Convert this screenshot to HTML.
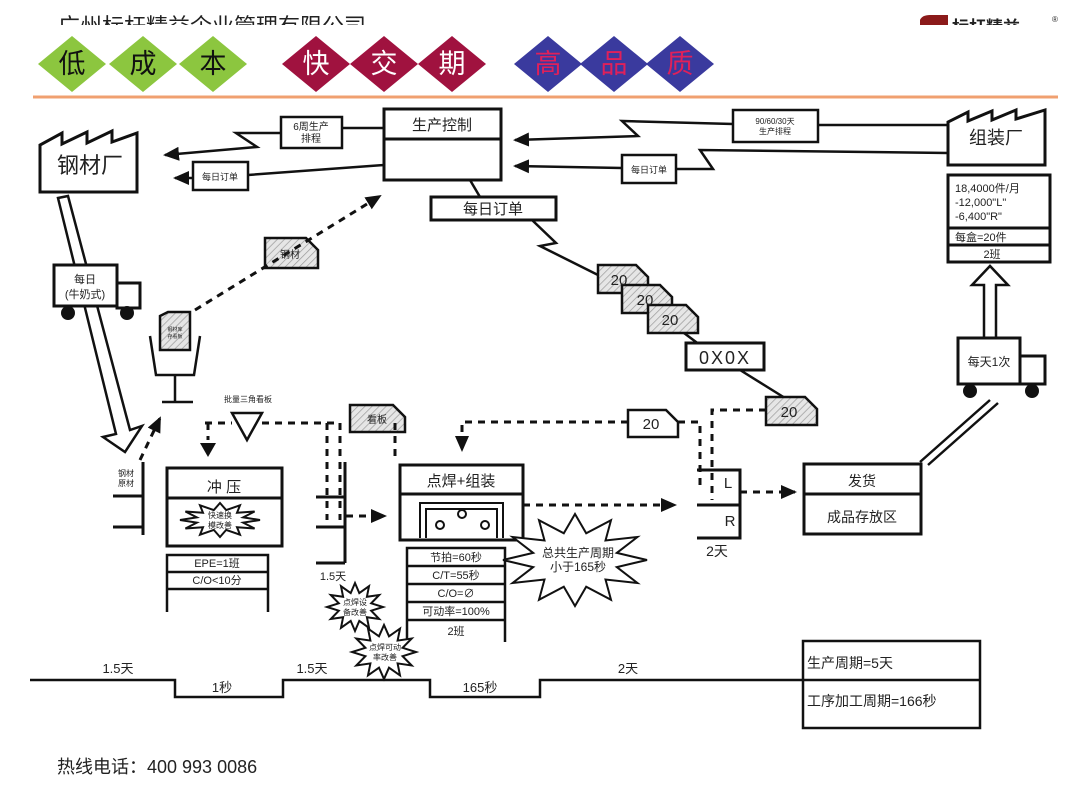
<!DOCTYPE html>
<html><head><meta charset="utf-8"><style>
html,body{margin:0;padding:0;background:#fff;}
svg{display:block;font-family:"Liberation Sans","Noto Sans CJK SC",sans-serif;}
</style></head><body>
<svg width="1080" height="810" viewBox="0 0 1080 810" xmlns="http://www.w3.org/2000/svg">
<defs>
<pattern id="h" width="5" height="5" patternUnits="userSpaceOnUse" patternTransform="rotate(45)">
<rect width="5" height="5" fill="#e6e6e6"/><line x1="0" y1="0" x2="0" y2="5" stroke="#9a9a9a" stroke-width="1.4"/></pattern>
<marker id="b" markerWidth="16" markerHeight="14" refX="14" refY="7" orient="auto" markerUnits="userSpaceOnUse"><path d="M0,0 L16,7 L0,14 z" fill="#111"/></marker>
</defs>
<!-- header -->
<text x="58" y="34" font-size="22" fill="#222">广州标杆精益企业管理有限公司</text>
<path d="M920,26 V20 Q922,15 930,15 H948 V26 Z" fill="#8b1a1a"/>
<text x="952" y="33" font-size="17" fill="#222" font-weight="bold">标杆精益</text>
<text x="1052" y="22" font-size="8" fill="#222">®</text>
<rect x="0" y="25" width="1080" height="11" fill="#fff"/>
<g font-size="27" text-anchor="middle">
<polygon points="72,36 106,64 72,92 38,64" fill="#8cc63f"/><polygon points="143,36 177,64 143,92 109,64" fill="#8cc63f"/><polygon points="213,36 247,64 213,92 179,64" fill="#8cc63f"/>
<text x="72" y="73" fill="#111">低</text><text x="143" y="73" fill="#111">成</text><text x="213" y="73" fill="#111">本</text>
<polygon points="316,36 350,64 316,92 282,64" fill="#a0123f"/><polygon points="384,36 418,64 384,92 350,64" fill="#a0123f"/><polygon points="452,36 486,64 452,92 418,64" fill="#a0123f"/>
<text x="316" y="73" fill="#fff">快</text><text x="384" y="73" fill="#fff">交</text><text x="452" y="73" fill="#fff">期</text>
<polygon points="548,36 582,64 548,92 514,64" fill="#3a3a9e"/><polygon points="614,36 648,64 614,92 580,64" fill="#3a3a9e"/><polygon points="680,36 714,64 680,92 646,64" fill="#3a3a9e"/>
<text x="548" y="73" fill="#e0205a">高</text><text x="614" y="73" fill="#e0205a">品</text><text x="680" y="73" fill="#e0205a">质</text>
</g>
<line x1="33" y1="97" x2="1058" y2="97" stroke="#f0a070" stroke-width="3"/>

<g stroke="#111" stroke-width="3" fill="none">
<path d="M40,192 V145 L62,133 V144 L87,132 V143 L112,131 V142 L137,133 V192 Z" fill="#fff"/>
<path d="M948,165 V122 L968,112 V121 L992,111 V120 L1016,110 V119 L1045,110 V165 Z" fill="#fff"/>
<rect x="384" y="109" width="117" height="71" fill="#fff"/><line x1="384" y1="139" x2="501" y2="139"/>
<rect x="431" y="197" width="125" height="23" fill="#fff"/>
<line x1="470" y1="180" x2="480" y2="197" stroke-width="2.5"/>
<path d="M384,128 H342 M281,133 H236 L257,147 L165,155" marker-end="url(#b)" stroke-width="2.5"/>
<rect x="281" y="117" width="61" height="31" fill="#fff" stroke-width="2.5"/>
<path d="M384,165 L248,175 M193,178 H175" marker-end="url(#b)" stroke-width="2.5"/>
<rect x="193" y="162" width="55" height="28" fill="#fff" stroke-width="2.5"/>
<path d="M948,125 H818 M733,124 L622,121 L638,136 L515,140" marker-end="url(#b)" stroke-width="2.5"/>
<rect x="733" y="110" width="85" height="32" fill="#fff" stroke-width="2.5"/>
<path d="M948,153 L700,150 L713,169 H676 M622,168 L515,166" marker-end="url(#b)" stroke-width="2.5"/>
<rect x="622" y="155" width="54" height="28" fill="#fff" stroke-width="2.5"/>
<path d="M532,220 L556,243 L540,246 L600,276" stroke-width="2.5"/>
<line x1="680" y1="330" x2="700" y2="345" stroke-width="2.5"/>
<line x1="740" y1="370" x2="785" y2="398" stroke-width="2.5"/>
<rect x="948" y="175" width="102" height="87" fill="#fff"/>
<line x1="948" y1="228" x2="1050" y2="228"/><line x1="948" y1="245" x2="1050" y2="245"/>
<path d="M984,340 V285 H972 L990,266 L1008,285 H996 V340" fill="#fff" stroke-width="2.5"/>
<rect x="958" y="338" width="62" height="46" fill="#fff"/><rect x="1020" y="356" width="25" height="28" fill="#fff"/>
<line x1="990" y1="400" x2="920" y2="462" stroke-width="2.5"/><line x1="998" y1="403" x2="928" y2="465" stroke-width="2.5"/>
<rect x="804" y="464" width="117" height="70" fill="#fff"/><line x1="804" y1="494" x2="921" y2="494"/>
<path d="M697,470 H740 V538 H697 M697,505 H740"/>
<path d="M58,198 L68,196 L130,430 L142,426 L125,452 L103,437 L116,434 Z" fill="#fff" stroke-width="2.5"/>
<rect x="54" y="265" width="63" height="41" fill="#fff"/><rect x="117" y="283" width="23" height="25" fill="#fff"/>
<path d="M150,336 L156,375 H194 L200,336" stroke-width="2.5"/>
<line x1="175" y1="375" x2="175" y2="402" stroke-width="2.5"/><line x1="162" y1="402" x2="193" y2="402" stroke-width="2.5"/>
<path d="M143,462 V535 M113,496 H143 M113,527 H143"/>
<path d="M345,462 V563 M316,497 H345 M316,527 H345 M316,563 H345"/>
<rect x="167" y="468" width="115" height="78" fill="#fff"/><line x1="167" y1="498" x2="282" y2="498"/>
<path d="M167,612 V555 H268 V612 M167,572 H268 M167,589 H268" stroke-width="2.5"/>
<rect x="400" y="465" width="123" height="75" fill="#fff"/><line x1="400" y1="494" x2="523" y2="494"/>
<path d="M420,538 V503 H503 V538 M426,538 V509 H497 V538" stroke-width="2"/>
<path d="M407,642 V548 H505 V642 M407,566 H505 M407,584 H505 M407,602 H505 M407,620 H505" stroke-width="2.5"/>
<polygon points="232,413 262,413 247,440" fill="#fff" stroke-width="2.5"/>
<path d="M30,680 H175 V697 H283 V680 H430 V697 H540 V680 H803" stroke-width="2.5"/>
<rect x="803" y="641" width="177" height="87" fill="#fff" stroke-width="2.5"/><line x1="803" y1="680" x2="980" y2="680" stroke-width="2.5"/>
</g>
<g fill="#111"><circle cx="68" cy="313" r="7"/><circle cx="127" cy="313" r="7"/><circle cx="970" cy="391" r="7"/><circle cx="1032" cy="391" r="7"/></g>
<g fill="#fff" stroke="#111" stroke-width="2"><circle cx="440" cy="525" r="4"/><circle cx="462" cy="514" r="4"/><circle cx="485" cy="525" r="4"/></g>
<g stroke="#111" stroke-width="2.5" fill="url(#h)">
<path d="M598,265 H636 L648,277 V293 H598 Z"/>
<path d="M622,285 H660 L672,297 V313 H622 Z"/>
<path d="M648,305 H686 L698,317 V333 H648 Z"/>
<path d="M766,397 H805 L817,409 V425 H766 Z"/>
<path d="M265,238 H306 L318,250 V268 H265 Z"/>
<path d="M350,405 H393 L405,417 V432 H350 Z"/>
<path d="M160,316 L168,312 H190 V350 H160 Z"/>
</g>
<path d="M628,410 H666 L678,422 V437 H628 Z" fill="#fff" stroke="#111" stroke-width="2.5"/>
<rect x="686" y="343" width="78" height="27" fill="#fff" stroke="#111" stroke-width="3"/>
<g stroke="#111" stroke-width="3" fill="none" stroke-dasharray="7,6">
<path d="M195,310 L380,196" marker-end="url(#b)"/>
<path d="M140,460 L160,418" marker-end="url(#b)"/>
<path d="M205,423 H232 M262,423 H340 V520 M208,423 V440"/>
<path d="M327,423 V520 M395,423 V462"/>
<path d="M346,516 H385" marker-end="url(#b)"/>
<path d="M628,422 H462 V450" marker-end="url(#b)"/>
<path d="M678,422 H700 V490"/>
<path d="M766,410 H712 V500"/>
<path d="M523,505 H675" marker-end="url(#b)"/>
<path d="M740,492 H795" marker-end="url(#b)"/>
</g>
<path d="M200,443 L216,443 L208,457 Z" fill="#111"/>
<g fill="#fff" stroke="#111" stroke-width="2">
<polygon points="260,520 243.2,522.6 254.6,528.5 237,527.2 240,534.7 226.2,529.9 220,537 213.8,529.9 200,534.7 203,527.2 185.4,528.5 196.8,522.6 180,520 196.8,517.4 185.4,511.5 203,512.8 200,505.3 213.8,510.1 220,503 226.2,510.1 240,505.3 237,512.8 254.6,511.5 243.2,517.4"/>
<polygon points="647,560 616.8,567.1 637.4,583 605.5,579.5 611,599.8 586.2,586.7 575,606 563.8,586.7 539,599.8 544.5,579.5 512.6,583 533.2,567.1 503,560 533.2,552.9 512.6,537 544.5,540.5 539,520.2 563.8,533.3 575,514 586.2,533.3 611,520.2 605.5,540.5 637.4,537 616.8,552.9"/>
<polygon points="383,607 371.2,610.7 379.2,619 366.9,617.2 369,627.8 359.3,620.9 355,631 350.7,620.9 341,627.8 343.1,617.2 330.8,619 338.8,610.7 327,607 338.8,603.3 330.8,595 343.1,596.8 341,586.2 350.7,593.1 355,583 359.3,593.1 369,586.2 366.9,596.8 379.2,595 371.2,603.3"/>
<polygon points="416,652 402.6,656.2 411.7,665.5 397.6,663.4 400,675.4 389,667.7 384,679 379,667.7 368,675.4 370.4,663.4 356.3,665.5 365.4,656.2 352,652 365.4,647.8 356.3,638.5 370.4,640.6 368,628.6 379,636.3 384,625 389,636.3 400,628.6 397.6,640.6 411.7,638.5 402.6,647.8"/>
</g>
<g fill="#222" text-anchor="middle">
<text x="90" y="173" font-size="22">钢材厂</text>
<text x="996" y="144" font-size="18">组装厂</text>
<text x="442" y="130" font-size="15">生产控制</text>
<text x="493" y="214" font-size="15">每日订单</text>
<text x="311" y="130" font-size="10">6周生产</text><text x="311" y="142" font-size="10">排程</text>
<text x="220" y="180" font-size="9">每日订单</text>
<text x="775" y="124" font-size="8">90/60/30天</text><text x="775" y="134" font-size="8">生产排程</text>
<text x="649" y="173" font-size="9">每日订单</text>
<g font-size="15"><text x="619" y="285">20</text><text x="645" y="305">20</text><text x="670" y="325">20</text><text x="789" y="417">20</text><text x="651" y="429">20</text></g>
<text x="725" y="364" font-size="18" letter-spacing="2">0X0X</text>
<text x="290" y="258" font-size="10">钢材</text>
<text x="377" y="423" font-size="10">看板</text>
<text x="175" y="331" font-size="5">钢材库</text><text x="175" y="338" font-size="5">存看板</text>
<text x="85" y="283" font-size="11">每日</text><text x="85" y="298" font-size="11">(牛奶式)</text>
<text x="989" y="366" font-size="12">每天1次</text>
<text x="248" y="402" font-size="8">批量三角看板</text>
<text x="126" y="476" font-size="8">钢材</text><text x="126" y="486" font-size="8">原材</text>
<text x="224" y="492" font-size="15">冲 压</text>
<text x="220" y="518" font-size="8">快速换</text><text x="220" y="528" font-size="8">模改善</text>
<text x="217" y="567" font-size="11">EPE=1班</text><text x="217" y="584" font-size="11">C/O&lt;10分</text>
<text x="333" y="580" font-size="11">1.5天</text>
<text x="461" y="486" font-size="15">点焊+组装</text>
<g font-size="11"><text x="456" y="561">节拍=60秒</text><text x="456" y="579">C/T=55秒</text><text x="456" y="597">C/O=∅</text><text x="456" y="615">可动率=100%</text><text x="456" y="635">2班</text></g>
<text x="578" y="557" font-size="12">总共生产周期</text><text x="578" y="571" font-size="12">小于165秒</text>
<text x="355" y="605" font-size="8">点焊设</text><text x="355" y="615" font-size="8">备改善</text>
<text x="385" y="650" font-size="8">点焊可动</text><text x="385" y="660" font-size="8">率改善</text>
<text x="728" y="488" font-size="15">L</text><text x="730" y="526" font-size="15">R</text>
<text x="717" y="556" font-size="14">2天</text>
<text x="862" y="486" font-size="14">发货</text>
<text x="862" y="522" font-size="14">成品存放区</text>
<text x="118" y="673" font-size="13">1.5天</text><text x="222" y="692" font-size="13">1秒</text><text x="312" y="673" font-size="13">1.5天</text><text x="480" y="692" font-size="13">165秒</text><text x="628" y="673" font-size="13">2天</text>
</g>
<g fill="#222" font-size="11">
<text x="955" y="192">18,4000件/月</text><text x="955" y="206">-12,000"L"</text><text x="955" y="220">-6,400"R"</text>
<text x="955" y="241">每盒=20件</text><text x="992" y="258" text-anchor="middle">2班</text>
</g>
<text x="807" y="668" font-size="14" fill="#222">生产周期=5天</text>
<text x="807" y="706" font-size="14" fill="#222">工序加工周期=166秒</text>
<text x="57" y="773" font-size="18" fill="#222">热线电话：400 993 0086</text>
</svg>
</body></html>
